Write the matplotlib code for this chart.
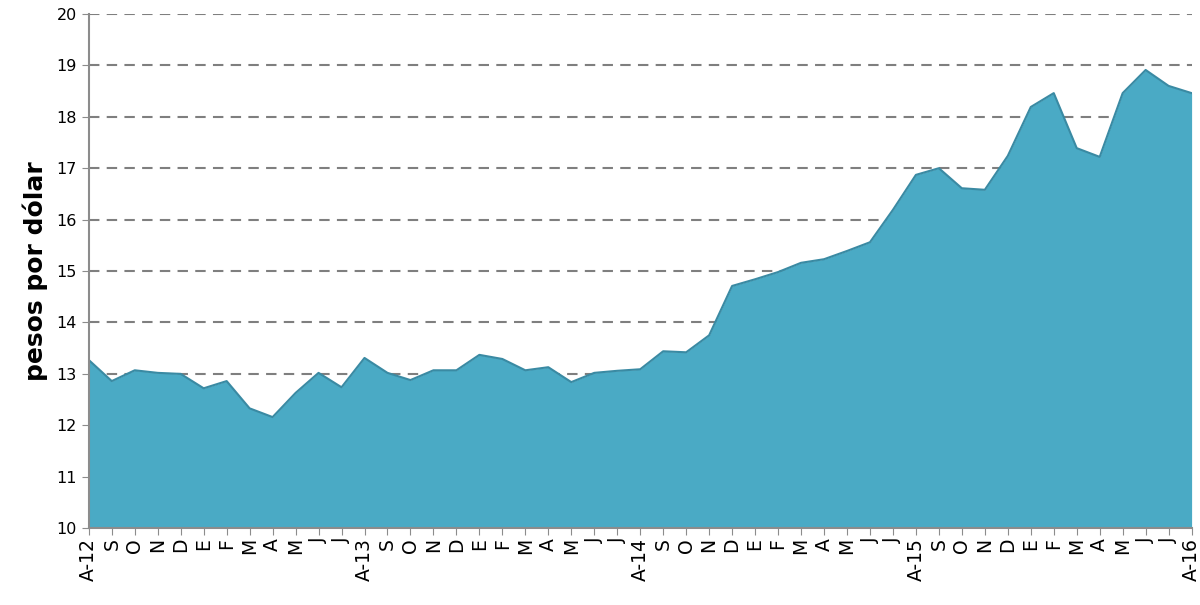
import numpy as np
import matplotlib
matplotlib.use('Agg')
import matplotlib.pyplot as plt

## monthly exchange rate, Aug 2012 - Aug 2016
months = ['A-12', 'S', 'O', 'N', 'D', 'E', 'F', 'M', 'A', 'M', 'J', 'J',
          'A-13', 'S', 'O', 'N', 'D', 'E', 'F', 'M', 'A', 'M', 'J', 'J',
          'A-14', 'S', 'O', 'N', 'D', 'E', 'F', 'M', 'A', 'M', 'J', 'J',
          'A-15', 'S', 'O', 'N', 'D', 'E', 'F', 'M', 'A', 'M', 'J', 'J',
          'A-16']
rate = [13.27, 12.86, 13.07, 13.02, 13.00, 12.72, 12.86, 12.33, 12.16, 12.63, 13.02, 12.74,
        13.31, 13.02, 12.88, 13.07, 13.07, 13.37, 13.29, 13.07, 13.13, 12.84, 13.02, 13.06,
        13.09, 13.44, 13.42, 13.75, 14.71, 14.84, 14.98, 15.16, 15.23, 15.39, 15.56, 16.19,
        16.87, 17.00, 16.61, 16.58, 17.24, 18.19, 18.46, 17.39, 17.22, 18.46, 18.91, 18.60,
        18.46]

fill_color = '#4aaac5'
edge_color = '#3a8aa3'
axis_gray = '#8c8c8c'

fig = plt.figure(figsize=(12, 6.05), dpi=100)
ax = fig.add_axes([0.074, 0.127, 0.919, 0.85])

x = np.arange(len(rate))
ax.fill_between(x, 10, rate, color=fill_color, linewidth=0, zorder=2)
ax.plot(x, rate, color=edge_color, linewidth=1.5, zorder=3)

ax.set_xlim(0, len(rate) - 1)
ax.set_ylim(10, 20)
ax.set_yticks(np.arange(10, 21, 1))
ax.set_xticks(x)
ax.set_xticklabels(months, rotation=90, fontsize=13.5)
ax.tick_params(axis='y', labelsize=11.5, color=axis_gray, length=5)
ax.tick_params(axis='x', color=axis_gray, length=5, pad=2)

## dashed horizontal grid
ax.yaxis.grid(True, linestyle=(0, (5, 3.5)), color='#7f7f7f', linewidth=1.5, zorder=1)
ax.set_axisbelow(True)

for s in ['top', 'right']:
    ax.spines[s].set_visible(False)
for s in ['left', 'bottom']:
    ax.spines[s].set_color(axis_gray)
    ax.spines[s].set_linewidth(1.5)
    ax.spines[s].set_zorder(4)

ax.set_ylabel('pesos por dólar', fontsize=18, fontweight='bold', labelpad=6)

fig.savefig('out.png', dpi=100)
